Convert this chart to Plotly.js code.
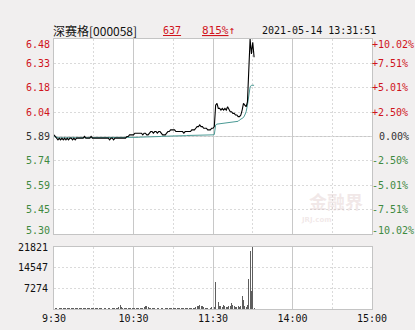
<!DOCTYPE html>
<html>
<head>
<meta charset="utf-8">
<script src="https://cdn.plot.ly/plotly-3.0.1.min.js"></script>
<style>html,body{margin:0;padding:0;background:#f1efef;}#chart{width:415px;height:330px;}</style>
</head>
<body>
<div id="chart"></div>
<script>
// ---- data (minute index from 9:30; 0-120 morning, 120-240 afternoon) ----
const stockName = '深赛格[000058]';
const lastPrice = '637';
const changePct = '815%';
const stamp = '2021-05-14 13:31:51';
const prevClose = 5.89;
const priceMin = 5.30;
const priceMax = 6.48;

const price = [
  5.90,5.89,5.88,5.87,5.88,5.87,5.88,5.87,5.88,5.87,
  5.88,5.87,5.88,5.88,5.87,5.88,5.87,5.88,5.88,5.88,
  5.88,5.88,5.88,5.89,5.88,5.88,5.88,5.88,5.89,5.88,
  5.88,5.88,5.88,5.88,5.88,5.88,5.88,5.88,5.88,5.88,
  5.88,5.88,5.87,5.88,5.88,5.87,5.88,5.88,5.88,5.88,
  5.88,5.88,5.88,5.88,5.88,5.89,5.89,5.90,5.90,5.90,
  5.90,5.91,5.91,5.91,5.91,5.91,5.91,5.90,5.91,5.91,
  5.90,5.90,5.91,5.92,5.92,5.91,5.92,5.92,5.91,5.92,
  5.92,5.91,5.90,5.90,5.90,5.91,5.92,5.92,5.93,5.93,
  5.93,5.93,5.92,5.92,5.92,5.92,5.92,5.92,5.91,5.92,
  5.92,5.92,5.92,5.92,5.93,5.93,5.93,5.94,5.95,5.95,
  5.96,5.95,5.95,5.94,5.94,5.94,5.93,5.93,5.93,5.94,
  5.94,5.95,6.08,6.09,6.06,6.06,6.05,6.06,6.05,6.06,
  6.05,6.07,6.05,6.04,6.04,6.03,6.03,6.02,6.02,6.01,
  6.01,6.02,6.05,6.09,6.08,6.07,6.10,6.35,6.48,6.39,
  6.46,6.37
];
const avgPrice = [
  5.890,5.886,5.884,5.883,5.882,5.882,5.881,5.881,5.881,5.881,
  5.881,5.881,5.881,5.881,5.881,5.881,5.881,5.881,5.881,5.881,
  5.881,5.881,5.881,5.881,5.881,5.881,5.881,5.881,5.881,5.881,
  5.881,5.881,5.881,5.881,5.881,5.881,5.881,5.881,5.881,5.881,
  5.881,5.881,5.881,5.881,5.881,5.881,5.881,5.881,5.882,5.882,
  5.882,5.882,5.882,5.882,5.882,5.882,5.883,5.883,5.883,5.883,
  5.884,5.884,5.885,5.885,5.885,5.886,5.886,5.886,5.887,5.887,
  5.887,5.888,5.888,5.888,5.889,5.889,5.889,5.890,5.890,5.890,
  5.890,5.891,5.891,5.891,5.891,5.892,5.892,5.892,5.893,5.893,
  5.893,5.893,5.894,5.894,5.894,5.894,5.895,5.895,5.895,5.895,
  5.896,5.896,5.896,5.896,5.897,5.897,5.897,5.897,5.898,5.898,
  5.898,5.899,5.899,5.899,5.899,5.899,5.900,5.900,5.900,5.900,
  5.900,5.902,5.960,5.965,5.966,5.967,5.968,5.969,5.970,5.971,
  5.972,5.973,5.974,5.975,5.976,5.977,5.978,5.979,5.980,5.982,
  5.990,5.995,6.000,6.005,6.020,6.040,6.080,6.140,6.190,6.200,
  6.200,6.200
];
const volume = [
  1400,400,500,300,400,300,500,400,300,400,
  400,300,400,500,300,400,300,400,400,300,
  400,500,400,300,400,300,400,400,300,400,
  400,300,400,400,300,400,300,400,500,300,
  400,300,400,400,300,400,300,400,500,700,
  1400,600,500,400,300,400,400,300,400,500,
  400,300,400,500,400,300,400,500,600,900,
  1000,600,500,400,400,300,400,500,400,300,
  400,500,300,400,400,300,400,500,400,300,
  400,300,400,400,500,400,300,400,400,300,
  400,500,400,300,400,500,400,600,900,1100,
  1300,1200,900,700,500,400,500,400,300,600,
  500,800,9400,3500,2600,1200,900,800,1500,900,
  700,800,1100,900,2100,1400,900,700,800,1000,
  800,1200,4650,3200,1000,800,1500,10400,20500,6200,
  21821,500
];
const xTickVals = [0, 60, 120, 180, 240];
const xTickText = ['9:30', '10:30', '11:30', '14:00', '15:00'];
const priceLabels = ['6.48','6.33','6.18','6.04','5.89','5.74','5.59','5.45','5.30'];
const pctLabels = ['+10.02%','+7.51%','+5.01%','+2.50%','0.00%','-2.50%','-5.01%','-7.51%','-10.02%'];
const volTickVals = [7274, 14547, 21821];
const volTickText = ['7274', '14547', '21821'];

// ---- build ----
const minutes = price.map((_, i) => i);
const volMinutes = volume.map((_, i) => i);
const step = (priceMax - prevClose) / 4;
const priceTicks = priceLabels.map((_, k) =>
  Math.min(priceMax, Math.max(priceMin, +(prevClose + (4 - k) * step).toFixed(6))));

const RED = '#d0141c', GREEN = '#3f8a3f', DARK = '#333333';
const mono = 'DejaVu Sans Mono, monospace';
const W = 318, H = 270; // plot area in px
const px = v => (v - 54) / W;
const py = v => (309 - v) / H;

const annotations = [];
priceLabels.forEach((t, k) => {
  const col = k < 4 ? RED : (k === 4 ? DARK : GREEN);
  const ys = k === 0 ? -5 : (k === 8 ? 3 : 0);
  annotations.push({xref:'paper', yref:'y', x:px(52), y:priceTicks[k] + (k === 8 ? 0.004 : 0), xanchor:'right', yanchor:'middle',
    text:t, showarrow:false, yshift:ys, font:{family:mono, size:10, color:col}});
  annotations.push({xref:'paper', yref:'y', x:px(k === 4 ? 377 : 370), y:priceTicks[k] + (k === 8 ? 0.004 : 0), xanchor:'left', yanchor:'middle',
    text:pctLabels[k], showarrow:false, yshift:ys, font:{family:mono, size:10, color:col}});
});
annotations.push({xref:'paper', yref:'paper', x:px(51), y:py(31), xanchor:'left', yanchor:'middle', showarrow:false,
  text:stockName, font:{family:'Noto Sans CJK SC, DejaVu Sans Mono', size:12, color:'#111'}});
annotations.push({xref:'paper', yref:'paper', x:px(161), y:py(31), xanchor:'left', yanchor:'middle', showarrow:false,
  text:'<u>' + lastPrice + '</u>', font:{family:mono, size:10, color:RED}});
annotations.push({xref:'paper', yref:'paper', x:px(200), y:py(31), xanchor:'left', yanchor:'middle', showarrow:false,
  text:'<u>' + changePct + '</u>↑', font:{family:mono, size:11, color:RED}});
annotations.push({xref:'paper', yref:'paper', x:px(260), y:py(31), xanchor:'left', yanchor:'middle', showarrow:false,
  text:stamp, font:{family:mono, size:10, color:'#111'}});
// watermark
annotations.push({xref:'paper', yref:'paper', x:px(336), y:py(201), xanchor:'center', yanchor:'middle', showarrow:false,
  text:'<b>金融界</b>', font:{family:'Noto Sans CJK SC', size:18, color:'rgba(215,190,190,0.35)'}});
annotations.push({xref:'paper', yref:'paper', x:px(316), y:py(220), xanchor:'center', yanchor:'middle', showarrow:false,
  text:'<b>JRJ.com</b>', font:{family:'DejaVu Sans', size:7, color:'rgba(215,190,190,0.35)'}});

const grid = '#dadada', solidGrid = '#c8c8c8', border = '#c4c4c4';

const traces = [
  {x:minutes, y:avgPrice, xaxis:'x', yaxis:'y', type:'scatter', mode:'lines',
   line:{color:'#4b9a95', width:1}, hoverinfo:'skip'},
  {x:minutes, y:price, xaxis:'x', yaxis:'y', type:'scatter', mode:'lines',
   line:{color:'#000000', width:1.1}, hoverinfo:'skip'},
  {x:volMinutes, y:volume, xaxis:'x2', yaxis:'y3', type:'bar', width:0.7,
   marker:{color:'#5e5e5e', line:{width:0}}, hoverinfo:'skip'}
];

const xCommon = {
  range:[0, 240], tickvals:xTickVals, showgrid:true, gridcolor:solidGrid, gridwidth:1,
  minor:{tick0:0, dtick:30, showgrid:true, gridcolor:grid, griddash:'2px,2px', gridwidth:1},
  showline:true, mirror:true, linecolor:border, linewidth:1, zeroline:false, ticks:'', fixedrange:true
};

const layout = {
  width:415, height:330,
  margin:{l:54, r:43, t:39, b:21, pad:0},
  paper_bgcolor:'#f1efef', plot_bgcolor:'#ffffff',
  showlegend:false, bargap:0,
  xaxis:Object.assign({}, xCommon, {anchor:'y', showticklabels:false}),
  xaxis2:Object.assign({}, xCommon, {anchor:'y3', matches:'x', showticklabels:true, ticktext:xTickText,
    tickfont:{family:mono, size:10, color:'#111'}}),
  yaxis:{domain:[(309-234)/H, 1], range:[priceMin, priceMax], tickvals:priceTicks, showticklabels:false,
    showgrid:true, gridcolor:grid, griddash:'2px,2px', showline:true, mirror:true, linecolor:border,
    zeroline:false, ticks:'', fixedrange:true},
  yaxis3:{domain:[0, (309-247)/H], range:[0, 21821], tickvals:volTickVals, ticktext:volTickText,
    tickfont:{family:mono, size:10, color:'#111'}, showgrid:true, gridcolor:grid, griddash:'2px,2px',
    showline:true, mirror:true, linecolor:border, zeroline:false, ticks:'', ticklabelstandoff:3, fixedrange:true},
  shapes:[
    {type:'line', xref:'x domain', yref:'y', x0:0, x1:1, y0:prevClose, y1:prevClose,
     line:{color:solidGrid, width:1}, layer:'below'}
  ],
  annotations:annotations
};

Plotly.newPlot('chart', traces, layout, {staticPlot:true, displayModeBar:false});
</script>
</body>
</html>
